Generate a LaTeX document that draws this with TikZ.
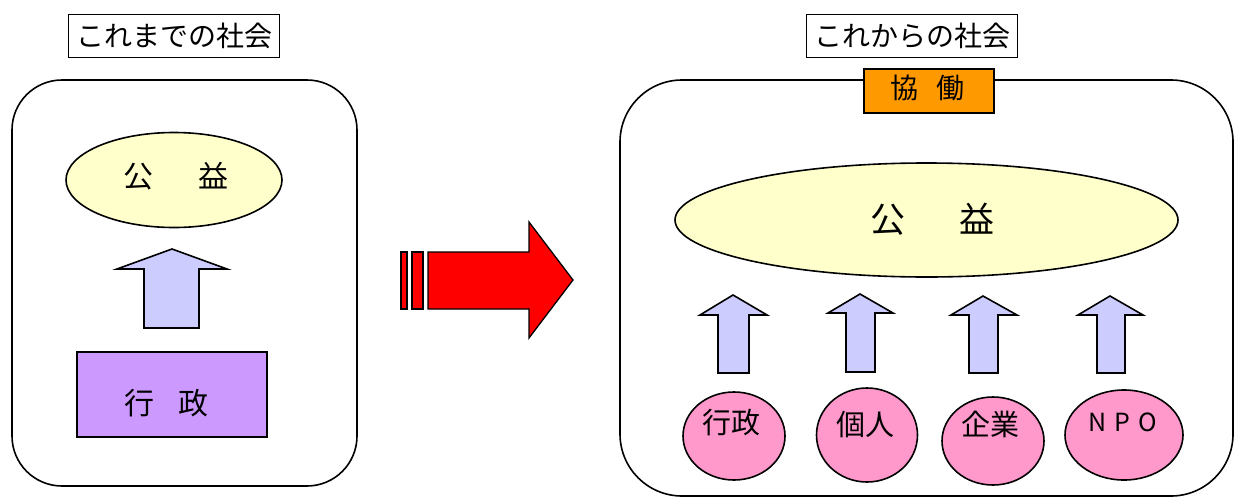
\documentclass[tikz,border=0pt]{standalone}
\usepackage{fontspec}
\newfontfamily\jp{Noto Sans CJK JP}
\usetikzlibrary{shapes.geometric}
\definecolor{kouekiY}{HTML}{FFFFCC}
\definecolor{arrowB}{HTML}{CCCCFF}
\definecolor{gyoseiV}{HTML}{CC99FF}
\definecolor{pinkE}{HTML}{FF99CC}
\definecolor{kyodoO}{HTML}{FF9900}
\begin{document}
\begin{tikzpicture}[x=1pt,y=-1pt,line width=1.6pt,line join=miter,
  txt/.style={font=\jp\fontsize{29}{32}\selectfont,inner sep=0pt},
  titlebox/.style={draw,fill=white,minimum width=211pt,minimum height=43pt,inner sep=0pt,font=\jp\fontsize{28}{32}\selectfont},
  frame/.style={draw,rounded corners=#1},
  koueki/.style={draw,ellipse,fill=kouekiY,inner sep=0pt},
  upar/.style={draw,fill=arrowB},
  actor/.style={draw,ellipse,fill=pinkE,inner sep=0pt}]
\useasboundingbox (0,0) rectangle (1242,498);
% frames
\draw[frame=50] (12,80) rectangle (357,486);
\draw[frame=62] (620,80) rectangle (1233,496);
% titles
\node[titlebox] (tL) at (174,36) {これまでの社会};
\node[titlebox] (tR) at (912,36) {これからの社会};
\node[draw,fill=kyodoO,minimum width=130pt,minimum height=44pt,inner sep=0pt] (kyo) at (929,91) {};
\node[txt,font=\jp\fontsize{28}{32}\selectfont] at (927.5,88) {協\hspace{19pt}働};
% left side
\node[koueki,minimum width=216pt,minimum height=95pt] (kL) at (174,180) {};
\node[txt,font=\jp\fontsize{30}{34}\selectfont] at (175.5,176) {公\hspace{45pt}益};
\draw[upar] (172,249) -- (227,269) -- (199,269) -- (199,328) -- (144,328) -- (144,269) -- (117,269) -- cycle;
\node[draw,fill=gyoseiV,minimum width=190pt,minimum height=85pt,inner sep=0pt] (gL) at (172,394.5) {};
\node[txt,font=\jp\fontsize{30}{34}\selectfont] at (166.75,403.5) {行\hspace{24.5pt}政};
% red arrow
\draw[fill=red,line width=1.3pt] (401,252) rectangle (407,309);
\draw[fill=red,line width=1.3pt] (412,252) rectangle (423,309);
\draw[fill=red,line width=1.3pt] (428,252) -- (529,252) -- (529,222) -- (573,280) -- (529,338) -- (529,309) -- (428,309) -- cycle;
% right side
\node[koueki,minimum width=503pt,minimum height=114pt] (kR) at (926.5,220) {};
\node[txt,font=\jp\fontsize{35}{38}\selectfont] at (932.5,219) {公\hspace{54pt}益};
% small arrows
\draw[upar] (733,295) -- (767,315) -- (749,315) -- (749,373) -- (718,373) -- (718,315) -- (700,315) -- cycle;
\draw[upar] (860,294) -- (893,313) -- (875,313) -- (875,372) -- (846,372) -- (846,313) -- (828,313) -- cycle;
\draw[upar] (983,296) -- (1017,315) -- (998,315) -- (998,373) -- (969,373) -- (969,315) -- (951,315) -- cycle;
\draw[upar] (1110,296) -- (1143,315) -- (1125,315) -- (1125,373) -- (1097,373) -- (1097,315) -- (1078,315) -- cycle;
% actors
\node[actor,minimum width=102pt,minimum height=88pt] (a1) at (734,436) {};
\node[actor,minimum width=101pt,minimum height=94pt] (a2) at (867,435) {};
\node[actor,minimum width=102pt,minimum height=88pt] (a3) at (993,441) {};
\node[actor,minimum width=118pt,minimum height=90pt] (a4) at (1124,435) {};
\node[txt] at (731,423) {行政};
\node[txt] at (865,425) {個人};
\node[txt] at (990.5,424.5) {企業};
\node[txt,font=\jp\fontsize{25}{30}\selectfont] at (1122.5,422) {\makebox[25pt]{N}\makebox[25pt]{P}\makebox[25pt]{O}};
\end{tikzpicture}
\end{document}
